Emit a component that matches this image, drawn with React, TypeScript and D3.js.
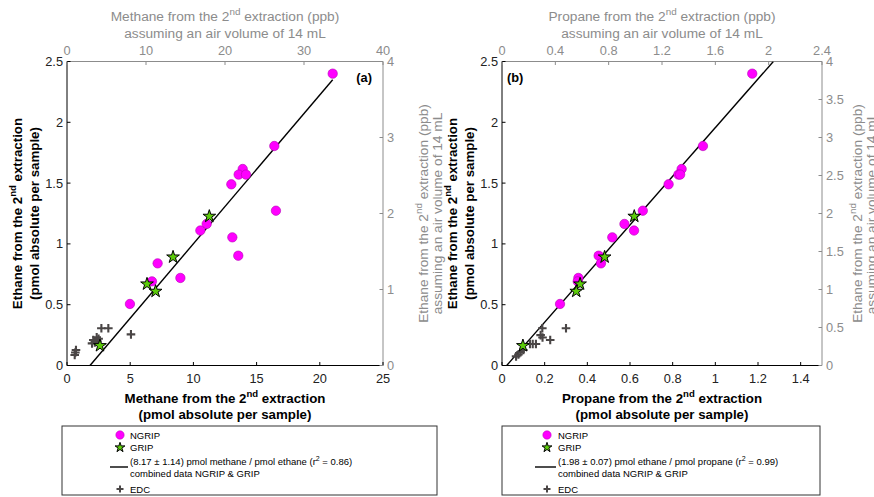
import React from 'react';
import * as d3 from 'd3';

// ---------- data ----------
const ngripEthane = [2.40, 1.805, 1.616, 1.57, 1.57, 1.49, 1.273, 1.164, 1.11, 1.054, 0.903, 0.84, 0.72, 0.692, 0.506];
const ngripMethane = [21.02, 16.4, 13.9, 13.58, 14.16, 13.0, 16.53, 11.05, 10.55, 13.08, 13.55, 7.17, 8.97, 6.72, 4.98];
const ngripPropane = [1.173, 0.942, 0.842, 0.827, 0.835, 0.781, 0.66, 0.574, 0.619, 0.517, 0.453, 0.464, 0.358, 0.355, 0.272];

const gripEthane = [1.227, 0.892, 0.670, 0.610, 0.163];
const gripMethane = [11.26, 8.39, 6.33, 7.01, 2.61];
const gripPropane = [0.62, 0.481, 0.366, 0.348, 0.098];

const edcMethane = [2.72, 3.27, 5.06, 2.35, 2.08, 1.98, 2.2, 2.4, 2.5, 0.71, 0.66, 0.61];
const edcEthaneA = [0.306, 0.306, 0.256, 0.232, 0.21, 0.182, 0.19, 0.2, 0.22, 0.127, 0.107, 0.086];
const edcPropane = [0.30, 0.189, 0.181, 0.19, 0.226, 0.159, 0.144, 0.131, 0.1, 0.087, 0.077, 0.066];
const edcEthaneB = [0.306, 0.306, 0.25, 0.23, 0.21, 0.177, 0.177, 0.177, 0.127, 0.11, 0.09, 0.075];

// fit lines: x-intercept, slope, x end
const fitA = { x0: 1.82, slope: 1 / 8.17, x1: 21.02 };
const fitB = { x0: 0.022, slope: 2.0, x1: 1.272 };

const yTicks = [0, 0.5, 1, 1.5, 2, 2.5];
const xTicksA = [0, 5, 10, 15, 20, 25];
const xTicksB = [0, 0.2, 0.4, 0.6, 0.8, 1, 1.2, 1.4];
const topTicksA = [0, 10, 20, 30, 40];
const topTicksB = [0, 0.4, 0.8, 1.2, 1.6, 2, 2.4];
const rightTicksA = [0, 1, 2, 3, 4];
const rightTicksB = [0, 0.5, 1, 1.5, 2, 2.5, 3, 3.5, 4];

const FONT = '"Liberation Sans", Arial, Helvetica, sans-serif';
const GRAY = '#8c8c8c';
const TOP = 61.5;
const BOTTOM = 365.5;

function Sup({ base, sup, rest, fs }: { base: string; sup: string; rest: string; fs: number }) {
  return (
    <>
      {base}
      <tspan dy={-fs * 0.42} fontSize={fs * 0.72}>{sup}</tspan>
      <tspan dy={fs * 0.42}>{rest}</tspan>
    </>
  );
}

function Cross({ x, y }: { x: number; y: number }) {
  const s = 4.3;
  return (
    <path d={`M${x - s},${y}H${x + s}M${x},${y - s}V${y + s}`} stroke="#4a4646" strokeWidth={2.1} />
  );
}

const starPath = d3.symbol(d3.symbolStar, 50)() as string;
const legendStar = d3.symbol(d3.symbolStar, 30)() as string;

function Panel(props: any) {
  const { left, right, xMax, xTicks, topMax, topTicks, rightTicks, xs, ys, gx, gy, ex, ey, fit, gas, topGas, label, labelLeft, rOff } = props;
  const x = d3.scaleLinear().domain([0, xMax]).range([left, right]);
  const y = d3.scaleLinear().domain([0, 2.5]).range([BOTTOM, TOP]);
  const xt = d3.scaleLinear().domain([0, topMax]).range([left, right]);
  const yr = d3.scaleLinear().domain([0, 4]).range([BOTTOM, TOP]);
  const cx = (left + right) / 2;
  const cy = (TOP + BOTTOM) / 2;
  const clipId = 'clip' + label;
  const fitLine = d3.line<number>().x((d) => x(d)).y((d) => y((d - fit.x0) * fit.slope));
  const fmt = (v: number) => String(+v.toFixed(2));
  return (
    <g fontFamily={FONT}>
      <defs>
        <clipPath id={clipId}>
          <rect x={left} y={TOP} width={right - left} height={BOTTOM - TOP} />
        </clipPath>
      </defs>
      <line x1={left} x2={right} y1={TOP} y2={TOP} stroke={GRAY} strokeWidth={1} />
      <line x1={right} x2={right} y1={TOP} y2={BOTTOM} stroke={GRAY} strokeWidth={1} />
      <line x1={left} x2={right} y1={BOTTOM} y2={BOTTOM} stroke="#000" strokeWidth={1} />
      <line x1={left} x2={left} y1={TOP} y2={BOTTOM} stroke="#000" strokeWidth={1} />
      {yTicks.map((t) => (
        <g key={'yl' + t}>
          <line x1={left} x2={left + 3.5} y1={y(t)} y2={y(t)} stroke="#000" />
          <text x={left - 4} y={y(t) + 4.5} fontSize={12.8} textAnchor="end" fill="#222">{fmt(t)}</text>
        </g>
      ))}
      {xTicks.map((t: number) => (
        <g key={'xb' + t}>
          <line x1={x(t)} x2={x(t)} y1={BOTTOM} y2={BOTTOM - 3.5} stroke="#000" />
          <text x={x(t)} y={BOTTOM + 17} fontSize={12.8} textAnchor="middle" fill="#222">{fmt(t)}</text>
        </g>
      ))}
      {topTicks.map((t: number) => (
        <g key={'xt' + t}>
          <line x1={xt(t)} x2={xt(t)} y1={TOP} y2={TOP + 3.5} stroke={GRAY} />
          <text x={xt(t)} y={TOP - 6.5} fontSize={12.8} textAnchor="middle" fill={GRAY}>{fmt(t)}</text>
        </g>
      ))}
      {rightTicks.map((t: number) => (
        <g key={'yr' + t}>
          <line x1={right} x2={right - 3.5} y1={yr(t)} y2={yr(t)} stroke={GRAY} />
          <text x={right + 4} y={yr(t) + 4.5} fontSize={12.8} textAnchor="start" fill={GRAY}>{fmt(t)}</text>
        </g>
      ))}
      <text x={cx} y={21} fontSize={13.7} textAnchor="middle" fill={GRAY}>
        <Sup base={`${topGas} from the 2`} sup="nd" rest=" extraction (ppb)" fs={13.7} />
      </text>
      <text x={cx} y={37.5} fontSize={13.7} textAnchor="middle" fill={GRAY}>assuming an air volume of 14 mL</text>
      <text x={cx} y={403} fontSize={13.3} fontWeight="bold" textAnchor="middle" fill="#000">
        <Sup base={`${gas} from the 2`} sup="nd" rest=" extraction" fs={13.3} />
      </text>
      <text x={cx} y={419} fontSize={13.3} fontWeight="bold" textAnchor="middle" fill="#000">(pmol absolute per sample)</text>
      <text transform={`translate(${left - 45},${cy}) rotate(-90)`} fontSize={13.3} fontWeight="bold" textAnchor="middle" fill="#000">
        <Sup base="Ethane from the 2" sup="nd" rest=" extraction" fs={13.3} />
      </text>
      <text transform={`translate(${left - 28},${cy}) rotate(-90)`} fontSize={13.3} fontWeight="bold" textAnchor="middle" fill="#000">(pmol absolute per sample)</text>
      <text transform={`translate(${right + rOff},${cy}) rotate(-90)`} fontSize={13.7} textAnchor="middle" fill={GRAY}>
        <Sup base="Ethane from the 2" sup="nd" rest=" extraction (ppb)" fs={13.7} />
      </text>
      <text transform={`translate(${right + rOff + 14},${cy}) rotate(-90)`} fontSize={13.7} textAnchor="middle" fill={GRAY}>assuming an air volume of 14 mL</text>
      <text x={labelLeft ? left + 5 : right - 11} y={TOP + 20} fontSize={12.8} fontWeight="bold" textAnchor={labelLeft ? 'start' : 'end'}>({label})</text>
      <g clipPath={`url(#${clipId})`}>
        <path d={fitLine([fit.x0, fit.x1]) as string} stroke="#000" strokeWidth={1.4} fill="none" />
      </g>
      {ex.map((v: number, i: number) => (
        <Cross key={'e' + i} x={x(v)} y={y(ey[i])} />
      ))}
      {xs.map((v: number, i: number) => (
        <circle key={'n' + i} cx={x(v)} cy={y(ys[i])} r={4.7} fill="#ff00ff" stroke="#b400b4" strokeWidth={0.6} />
      ))}
      {gx.map((v: number, i: number) => (
        <path key={'g' + i} d={starPath} transform={`translate(${x(v)},${y(gy[i])})`} fill="#5ccc0a" stroke="#000" strokeWidth={1} />
      ))}
    </g>
  );
}

function Legend({ left, right, mx, tx, l1, l2, fitText, r2 }: any) {
  const top = 426;
  const bottom = 495;
  return (
    <g fontFamily={FONT} fontSize={9.5} fill="#000">
      <rect x={left} y={top} width={right - left} height={bottom - top} fill="#fff" stroke="#333" strokeWidth={1} />
      <circle cx={mx} cy={435} r={4.2} fill="#ff00ff" stroke="#b400b4" strokeWidth={0.5} />
      <text x={tx} y={438.5}>NGRIP</text>
      <path d={legendStar} transform={`translate(${mx},447.5)`} fill="#5ccc0a" stroke="#000" strokeWidth={1} />
      <text x={tx} y={451}>GRIP</text>
      <line x1={l1} x2={l2} y1={467} y2={467} stroke="#000" strokeWidth={1.4} />
      <text x={tx} y={464.5}>
        {fitText}
        <tspan dy={-3.5} fontSize={7}>2</tspan>
        <tspan dy={3.5}> = {r2})</tspan>
      </text>
      <text x={tx} y={476.5}>combined data NGRIP &amp; GRIP</text>
      <path d={`M${mx - 3.5},489H${mx + 3.5}M${mx},485.5V492.5`} stroke="#4a4646" strokeWidth={2} />
      <text x={tx} y={492.5}>EDC</text>
    </g>
  );
}

export default function App() {
  return (
    <svg width={874} height={497} style={{ position: 'absolute', left: 0, top: 0, background: '#fff' }}>
      <rect width={874} height={497} fill="#fff" />
      <Panel left={67} right={383} xMax={25} xTicks={xTicksA} topMax={40} topTicks={topTicksA} rightTicks={rightTicksA}
        xs={ngripMethane} ys={ngripEthane} gx={gripMethane} gy={gripEthane} ex={edcMethane} ey={edcEthaneA}
        fit={fitA} gas="Methane" topGas="Methane" label="a" labelLeft={false} rOff={45} />
      <Panel left={502} right={822} xMax={1.5} xTicks={xTicksB} topMax={2.4} topTicks={topTicksB} rightTicks={rightTicksB}
        xs={ngripPropane} ys={ngripEthane} gx={gripPropane} gy={gripEthane} ex={edcPropane} ey={edcEthaneB}
        fit={fitB} gas="Propane" topGas="Propane" label="b" labelLeft={true} rOff={40} />
      <Legend left={62} right={437} mx={120} tx={130} l1={110} l2={128}
        fitText="(8.17 ± 1.14) pmol methane / pmol ethane (r" r2="0.86" />
      <Legend left={502} right={820} mx={547} tx={558} l1={535} l2={556}
        fitText="(1.98 ± 0.07) pmol ethane / pmol propane (r" r2="0.99" />
    </svg>
  );
}
